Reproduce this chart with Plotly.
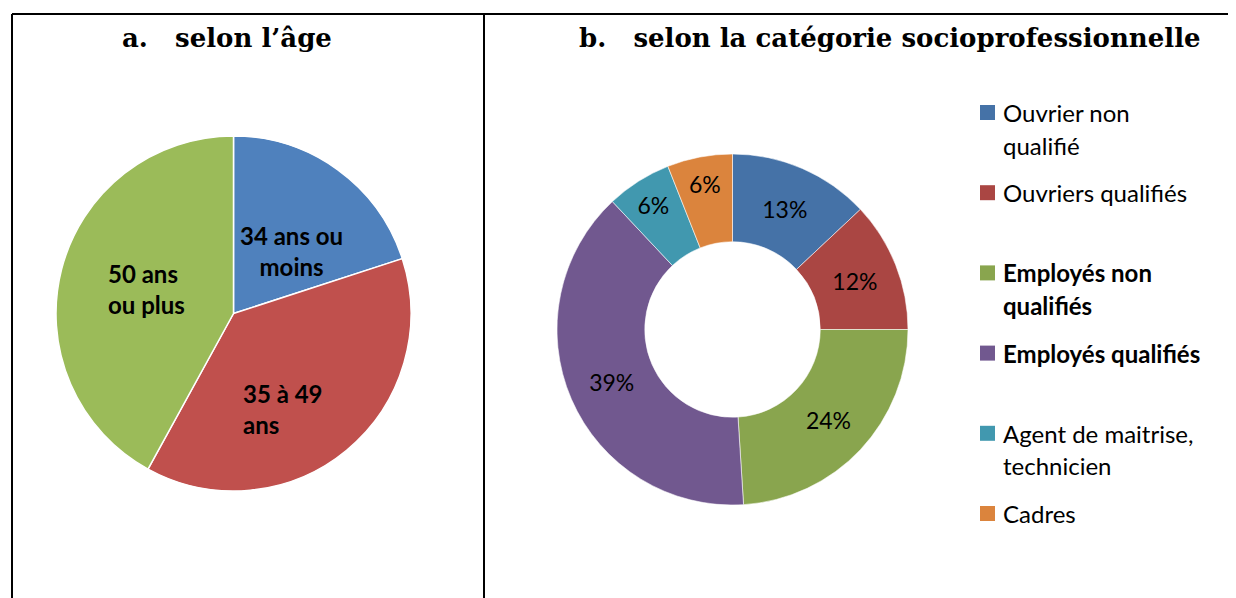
import plotly.graph_objects as go

OFF = 8  # page body margin
W, H = 1236 - OFF, 598 - OFF

# ---- data ----
age_labels = ["34 ans ou moins", "35 à 49 ans", "50 ans ou plus"]
age_text = ["34 ans ou<br>moins", "35 à 49<br>ans", "50 ans<br>ou plus"]
age_values = [20, 38, 42]
age_colors = ["#4F81BD", "#C0504D", "#9BBB59"]

csp_labels = ["Ouvrier non qualifié", "Ouvriers qualifiés", "Employés non qualifiés",
              "Employés qualifiés", "Agent de maitrise, technicien", "Cadres"]
csp_legend_lines = [["Ouvrier non", "qualifié"], ["Ouvriers qualifiés"],
                    ["<b>Employés non</b>", "<b>qualifiés</b>"], ["<b>Employés qualifiés</b>"],
                    ["Agent de maitrise,", "technicien"], ["Cadres"]]
csp_values = [13, 12, 24, 39, 6, 6]
csp_colors = ["#4572A7", "#AA4643", "#89A54E", "#71588F", "#4198AF", "#DB843D"]

title_a = "a.\u00a0\u00a0\u00a0selon l’âge"
title_b = "b.\u00a0\u00a0\u00a0selon la catégorie socioprofessionnelle"

# label placement (pixel) and alignment for the age pie labels
age_label_pos = [(291.5, 251, "center"), (241, 409, "left"), (106, 289, "left")]

SANS = "Lato, 'Open Sans', sans-serif"
SERIF = "'DejaVu Serif', 'Liberation Serif', serif"


def px(x):
    return (x - OFF) / W


def py(y):
    return 1 - (y - OFF) / H


fig = go.Figure()

fig.add_trace(go.Pie(
    labels=age_labels, values=age_values,
    textinfo="none",
    sort=False, direction="clockwise", rotation=0,
    marker=dict(colors=age_colors, line=dict(color="white", width=1.5)),
    domain=dict(x=[px(56), px(411)], y=[py(491), py(136)]),
    showlegend=False, hoverinfo="label+percent",
))

fig.add_trace(go.Pie(
    labels=csp_labels, values=csp_values, hole=0.5,
    texttemplate="%{percent:.0%}", textposition="inside", insidetextorientation="horizontal",
    sort=False, direction="clockwise", rotation=0,
    marker=dict(colors=csp_colors, line=dict(color="rgba(255,255,255,0.7)", width=0.8)),
    insidetextfont=dict(family=SANS, size=23, color="black"),
    domain=dict(x=[px(557), px(908)], y=[py(505), py(154)]),
    showlegend=False, hoverinfo="label+percent",
))

annotations = [
    dict(text="<b>%s</b>" % title_a, x=px(227), y=py(38), xref="paper", yref="paper",
         xanchor="center", yanchor="middle", showarrow=False,
         font=dict(family=SERIF, size=26, color="black")),
    dict(text="<b>%s</b>" % title_b, x=px(890), y=py(38), xref="paper", yref="paper",
         xanchor="center", yanchor="middle", showarrow=False,
         font=dict(family=SERIF, size=26, color="black")),
]

for t, (lx, ly, al) in zip(age_text, age_label_pos):
    annotations.append(dict(text="<b>%s</b>" % t, x=px(lx), y=py(ly), xref="paper", yref="paper",
                            xanchor="center" if al == "center" else "left", yanchor="middle",
                            align=al, showarrow=False,
                            font=dict(family=SANS, size=24, color="black")))

shapes = [
    dict(type="line", xref="paper", yref="paper", x0=px(12), x1=1, y0=py(14), y1=py(14),
         line=dict(color="black", width=2)),
    dict(type="line", xref="paper", yref="paper", x0=px(12), x1=px(12), y0=py(14), y1=0,
         line=dict(color="black", width=2)),
    dict(type="line", xref="paper", yref="paper", x0=px(484), x1=px(484), y0=py(14), y1=0,
         line=dict(color="black", width=2)),
]

# manual legend (equal slots like the original)
leg_top, leg_step, line_step = 112.5, 80.2, 32.5
for i, (lines, col) in enumerate(zip(csp_legend_lines, csp_colors)):
    yc = leg_top + i * leg_step
    shapes.append(dict(type="rect", xref="paper", yref="paper",
                       x0=px(980), x1=px(995), y0=py(yc + 7.5), y1=py(yc - 7.5),
                       fillcolor=col, line=dict(width=0)))
    for j, t in enumerate(lines):
        annotations.append(dict(text=t, x=px(1001), y=py(yc + j * line_step),
                                xref="paper", yref="paper", xanchor="left", yanchor="middle",
                                showarrow=False, font=dict(family=SANS, size=24, color="black")))

fig.update_layout(
    width=W, height=H, margin=dict(l=0, r=0, t=0, b=0),
    paper_bgcolor="white", plot_bgcolor="white",
    annotations=annotations, shapes=shapes,
)

fig.write_html("out.html")
